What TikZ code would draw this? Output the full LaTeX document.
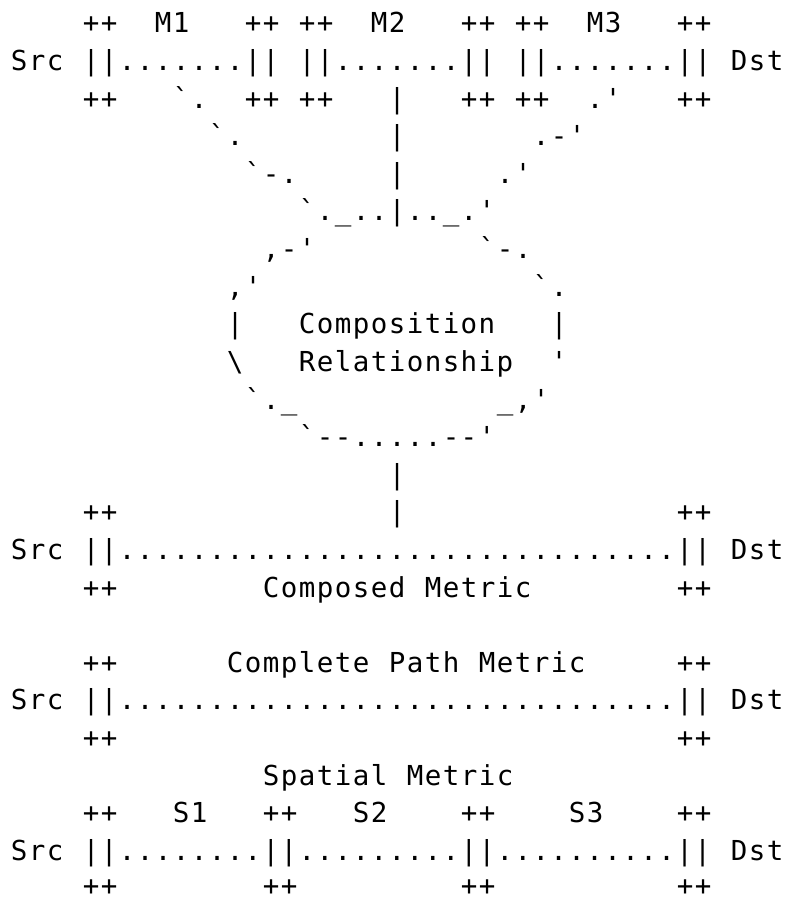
\documentclass[tikz,border=0pt]{standalone}
\usepackage{fontspec}
\setmonofont[LetterSpace=5.2]{DejaVu Sans Mono}

\begin{document}
\begin{tikzpicture}[
    x=1pt, y=1pt,
    every node/.style={font=\ttfamily\fontsize{27.5pt}{32pt}\selectfont},
    asc/.style={anchor=base west, inner sep=0pt, text=black},
]
\useasboundingbox (0,0) rectangle (786,-901);

% ============================================================ measured pieces M1 M2 M3
\foreach \c/\t in {4/++, 8/M1, 13/++, 16/++, 20/M2, 25/++, 28/++, 32/M3, 37/++}{
    \node[asc] (r1c\c) at ({10.7+18*\c}, -33.0) {\t};
}
\foreach \c/\t in {0/Src, 4/{||.......||}, 16/{||.......||}, 28/{||.......||}, 40/Dst}{
    \node[asc] (r2c\c) at ({10.7+18*\c}, -70.6) {\t};
}
\foreach \c/\t in {4/++, 9/{`.}, 13/++, 16/++, 21/|, 25/++, 28/++, 32/{.'}, 37/++}{
    \node[asc] (r3c\c) at ({10.7+18*\c}, -108.2) {\t};
}

% ============================================================ funnel into the relationship
\foreach \c/\t in {11/{`.}, 21/|, 29/{.-'}}{
    \node[asc] (r4c\c) at ({10.7+18*\c}, -145.8) {\t};
}
\foreach \c/\t in {13/{`-.}, 21/|, 27/{.'}}{
    \node[asc] (r5c\c) at ({10.7+18*\c}, -183.4) {\t};
}
\node[asc] (r6c16) at ({10.7+18*16}, -221.0) {`.\_..|..\_.'};

% ============================================================ the relationship bubble
\foreach \c/\t in {14/{,-'}, 26/{`-.}}{
    \node[asc] (r7c\c) at ({10.7+18*\c}, -258.6) {\t};
}
\foreach \c/\t in {12/{,'}, 29/{`.}}{
    \node[asc] (r8c\c) at ({10.7+18*\c}, -296.2) {\t};
}
\foreach \c/\t in {12/|, 16/Composition, 30/|}{
    \node[asc] (r9c\c) at ({10.7+18*\c}, -333.8) {\t};
}
\foreach \c/\t in {12/\textbackslash, 16/Relationship, 30/'}{
    \node[asc] (r10c\c) at ({10.7+18*\c}, -371.4) {\t};
}
\foreach \c/\t in {13/{`.\_}, 27/{\_,'}}{
    \node[asc] (r11c\c) at ({10.7+18*\c}, -409.0) {\t};
}
\node[asc] (r12c16) at ({10.7+18*16}, -446.6) {`--.....--'};
\node[asc] (r13c21) at ({10.7+18*21}, -484.2) {|};

% ============================================================ composed metric
\foreach \c/\t in {4/++, 21/|, 37/++}{
    \node[asc] (r14c\c) at ({10.7+18*\c}, -521.8) {\t};
}
\foreach \c/\t in {0/Src, 4/{||...............................||}, 40/Dst}{
    \node[asc] (r15c\c) at ({10.7+18*\c}, -559.4) {\t};
}
\foreach \c/\t in {4/++, 14/Composed, 23/Metric, 37/++}{
    \node[asc] (r16c\c) at ({10.7+18*\c}, -597.0) {\t};
}

% ============================================================ complete path metric
\foreach \c/\t in {4/++, 12/Complete, 21/Path, 26/Metric, 37/++}{
    \node[asc] (r18c\c) at ({10.7+18*\c}, -672.2) {\t};
}
\foreach \c/\t in {0/Src, 4/{||...............................||}, 40/Dst}{
    \node[asc] (r19c\c) at ({10.7+18*\c}, -709.8) {\t};
}
\foreach \c/\t in {4/++, 37/++}{
    \node[asc] (r20c\c) at ({10.7+18*\c}, -747.4) {\t};
}

% ============================================================ spatial metric S1 S2 S3
\foreach \c/\t in {14/Spatial, 22/Metric}{
    \node[asc] (r21c\c) at ({10.7+18*\c}, -785.0) {\t};
}
\foreach \c/\t in {4/++, 9/S1, 14/++, 19/S2, 25/++, 31/S3, 37/++}{
    \node[asc] (r22c\c) at ({10.7+18*\c}, -822.6) {\t};
}
\foreach \c/\t in {0/Src, 4/{||........||.........||..........||}, 40/Dst}{
    \node[asc] (r23c\c) at ({10.7+18*\c}, -860.2) {\t};
}
\foreach \c/\t in {4/++, 14/++, 25/++, 37/++}{
    \node[asc] (r24c\c) at ({10.7+18*\c}, -895.8) {\t};
}

\end{tikzpicture}
\end{document}
